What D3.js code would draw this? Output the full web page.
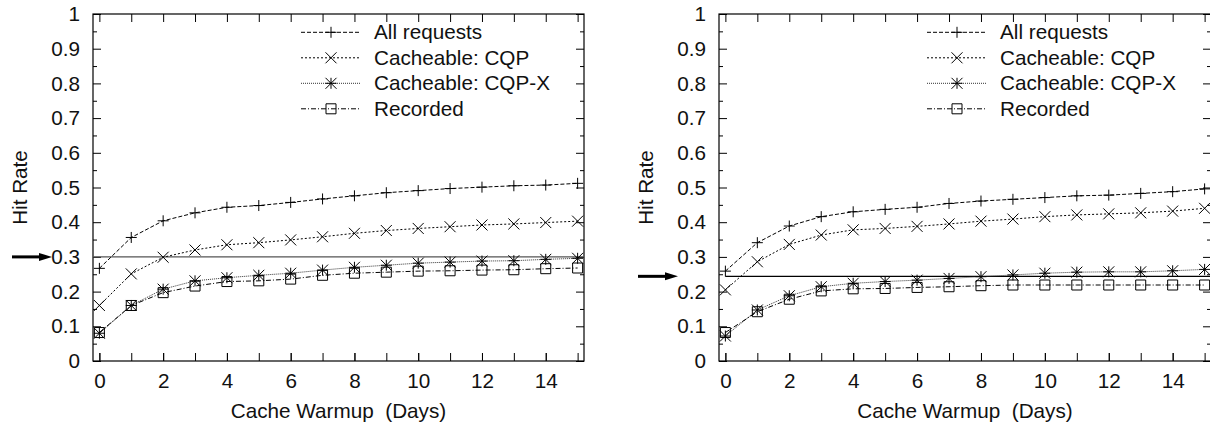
<!DOCTYPE html>
<html>
<head>
<meta charset="utf-8">
<script src="https://cdn.jsdelivr.net/npm/d3@7"></script>
<style>
  body { margin: 0; background: #fff; }
  svg { display: block; font-family: "Liberation Sans", Arial, sans-serif; }
  text { white-space: pre; }
  .axis path { stroke: #000; stroke-width: 1.2; }
  .axis line { stroke: #000; }
  .axis text { font-size: 20.7px; fill: #111; }
</style>
</head>
<body>
<div id="chart"></div>
<script>
// days of cache warmup
const days = d3.range(0, 16);

// left panel
const leftAll = [0.267, 0.356, 0.404, 0.427, 0.443, 0.448, 0.457, 0.467, 0.476, 0.485, 0.491, 0.497, 0.501, 0.505, 0.507, 0.512];
const leftCQP = [0.160, 0.251, 0.299, 0.320, 0.335, 0.341, 0.349, 0.358, 0.368, 0.376, 0.382, 0.387, 0.392, 0.395, 0.399, 0.403];
const leftCQPX = [0.080, 0.160, 0.207, 0.231, 0.240, 0.247, 0.253, 0.262, 0.270, 0.276, 0.282, 0.285, 0.288, 0.289, 0.293, 0.296];
const leftRecorded = [0.082, 0.160, 0.197, 0.216, 0.229, 0.231, 0.236, 0.247, 0.253, 0.256, 0.259, 0.260, 0.262, 0.263, 0.266, 0.268];
const leftRef = 0.30;

// right panel
const rightAll = [0.259, 0.341, 0.389, 0.416, 0.430, 0.437, 0.443, 0.454, 0.461, 0.466, 0.471, 0.476, 0.478, 0.483, 0.488, 0.496];
const rightCQP = [0.205, 0.286, 0.336, 0.363, 0.378, 0.382, 0.388, 0.395, 0.403, 0.409, 0.416, 0.421, 0.424, 0.427, 0.432, 0.440];
const rightCQPX = [0.072, 0.147, 0.188, 0.214, 0.224, 0.229, 0.233, 0.238, 0.243, 0.248, 0.253, 0.256, 0.257, 0.257, 0.260, 0.264];
const rightRecorded = [0.082, 0.142, 0.178, 0.202, 0.208, 0.209, 0.212, 0.214, 0.217, 0.219, 0.219, 0.219, 0.219, 0.219, 0.219, 0.219];
const rightRef = 0.244;

const seriesNames = ["All requests", "Cacheable: CQP", "Cacheable: CQP-X", "Recorded"];
const yTicks = [0, 0.1, 0.2, 0.3, 0.4, 0.5, 0.6, 0.7, 0.8, 0.9, 1];
const yMinorTicks = [0.05, 0.15, 0.25, 0.35, 0.45, 0.55, 0.65, 0.75, 0.85, 0.95];
const xTicks = [0, 2, 4, 6, 8, 10, 12, 14];
const xLabel = "Cache Warmup  (Days)";
const yLabel = "Hit Rate";

const W = 1210, H = 427;
const FS = 20.7;
const svg = d3.select("#chart").append("svg").attr("width", W).attr("height", H);

// line style per series: dash pattern, color, marker
const styles = [
  { dash: "4,2", color: "#000", marker: "plus" },
  { dash: "2,2", color: "#000", marker: "cross" },
  { dash: "1,1", color: "#333", marker: "star" },
  { dash: "5,2,1,2", color: "#000", marker: "square" }
];

function markerPath(type) {
  const s = 5.5;
  if (type === "plus") return `M${-s},0H${s}M0,${-s}V${s}`;
  if (type === "cross") return `M${-s},${-s}L${s},${s}M${-s},${s}L${s},${-s}`;
  if (type === "star") return `M${-s},0H${s}M0,${-s}V${s}M${-s},${-s}L${s},${s}M${-s},${s}L${s},${-s}`;
  const q = 5;
  return `M${-q},${-q}H${q}V${q}H${-q}Z`;
}

function drawPanel(left, right, seriesList, ref, refFromZero, arrowX) {
  const top = 14, bottom = 361;
  const x = d3.scaleLinear().domain([-0.2, 15.2]).range([left, right]);
  const y = d3.scaleLinear().domain([0, 1]).range([bottom, top]);
  const g = svg.append("g");

  // frame
  g.append("rect").attr("x", left).attr("y", top)
    .attr("width", right - left).attr("height", bottom - top)
    .attr("fill", "none").attr("stroke", "#000").attr("stroke-width", 1.2);

  // axes (inward ticks)
  g.append("g").attr("class", "axis").attr("transform", `translate(${left},0)`)
    .call(d3.axisLeft(y).tickValues(yTicks).tickFormat(d3.format("~g"))
      .tickSizeInner(-8).tickSizeOuter(0).tickPadding(13));
  g.append("g").attr("class", "axis").attr("transform", `translate(${left},0)`)
    .call(d3.axisLeft(y).tickValues(yMinorTicks).tickFormat("")
      .tickSizeInner(-4).tickSizeOuter(0));
  g.append("g").attr("class", "axis").attr("transform", `translate(${right},0)`)
    .call(d3.axisRight(y).tickValues(yTicks).tickFormat("")
      .tickSizeInner(-8).tickSizeOuter(0));
  g.append("g").attr("class", "axis").attr("transform", `translate(${right},0)`)
    .call(d3.axisRight(y).tickValues(yMinorTicks).tickFormat("")
      .tickSizeInner(-4).tickSizeOuter(0));
  g.append("g").attr("class", "axis").attr("transform", `translate(0,${bottom})`)
    .call(d3.axisBottom(x).tickValues(xTicks).tickFormat(d3.format("d"))
      .tickSizeInner(-8).tickSizeOuter(0).tickPadding(12.5));
  g.append("g").attr("class", "axis").attr("transform", `translate(0,${bottom})`)
    .call(d3.axisBottom(x).tickValues(days).tickFormat("")
      .tickSizeInner(-8).tickSizeOuter(0));
  g.append("g").attr("class", "axis").attr("transform", `translate(0,${top})`)
    .call(d3.axisTop(x).tickValues(days).tickFormat("")
      .tickSizeInner(-8).tickSizeOuter(0));
  g.selectAll(".axis path.domain").remove();

  // axis titles
  g.append("text").attr("x", x(7.5)).attr("y", 418)
    .attr("text-anchor", "middle").attr("font-size", FS).attr("fill", "#111")
    .text(xLabel);
  g.append("text")
    .attr("transform", `translate(${left - 66},${(top + bottom) / 2}) rotate(-90)`)
    .attr("text-anchor", "middle").attr("font-size", FS).attr("fill", "#111")
    .text(yLabel);

  // reference line and arrow
  g.append("line")
    .attr("x1", refFromZero ? x(0) : left).attr("x2", right)
    .attr("y1", y(ref)).attr("y2", y(ref))
    .attr("stroke", refFromZero ? "#000" : "#555").attr("stroke-width", 1.3);
  g.append("line").attr("x1", arrowX[0]).attr("x2", arrowX[1] - 10)
    .attr("y1", y(ref)).attr("y2", y(ref))
    .attr("stroke", "#000").attr("stroke-width", 3);
  g.append("path")
    .attr("d", `M${arrowX[1]},${y(ref)}L${arrowX[1] - 13},${y(ref) - 4}L${arrowX[1] - 13},${y(ref) + 4}Z`)
    .attr("fill", "#000");

  // series
  const line = d3.line().x((d, i) => x(days[i])).y(d => y(d));
  seriesList.forEach((vals, k) => {
    const st = styles[k];
    g.append("path").datum(vals).attr("d", line)
      .attr("fill", "none").attr("stroke", st.color).attr("stroke-width", 1)
      .attr("stroke-dasharray", st.dash);
    g.selectAll(null).data(vals).enter().append("path")
      .attr("transform", (d, i) => `translate(${x(days[i])},${y(d)})`)
      .attr("d", markerPath(st.marker))
      .attr("fill", "none").attr("stroke", "#000").attr("stroke-width", 1);
  });

  // legend
  const lx = left + 208;
  seriesNames.forEach((name, k) => {
    const st = styles[k];
    const ly = 32.3 + k * 25.5;
    g.append("line").attr("x1", lx).attr("x2", lx + 60).attr("y1", ly).attr("y2", ly)
      .attr("stroke", st.color).attr("stroke-width", 1).attr("stroke-dasharray", st.dash);
    g.append("path").attr("transform", `translate(${lx + 30},${ly})`)
      .attr("d", markerPath(st.marker)).attr("fill", "none")
      .attr("stroke", "#000").attr("stroke-width", 1);
    g.append("text").attr("x", lx + 73).attr("y", ly + 7)
      .attr("font-size", FS).attr("fill", "#111").text(name);
  });
}

drawPanel(93, 584, [leftAll, leftCQP, leftCQPX, leftRecorded], leftRef, false, [12, 52]);
drawPanel(719, 1211, [rightAll, rightCQP, rightCQPX, rightRecorded], rightRef, true, [638, 678]);
</script>
</body>
</html>
